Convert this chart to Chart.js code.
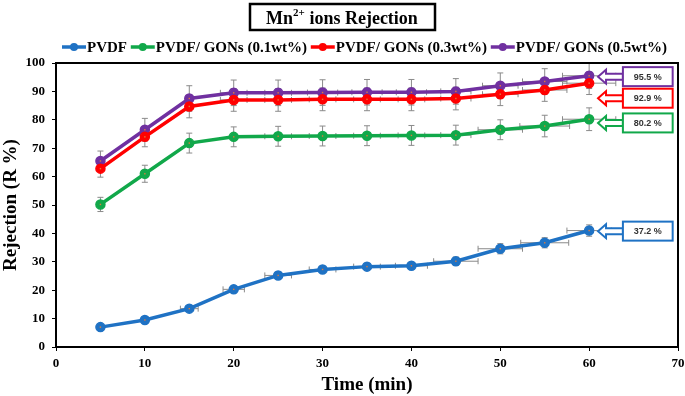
<!DOCTYPE html>
<html>
<head>
<meta charset="utf-8">
<script src="https://cdn.jsdelivr.net/npm/chart.js@4.4.1/dist/chart.umd.min.js"></script>
<style>
  body { margin: 0; background: #fff; }
  #wrap { width: 685px; height: 396px; }
</style>
</head>
<body>
<div id="wrap"><canvas id="chart" width="685" height="396"></canvas></div>
<script>
const times = [5, 10, 15, 20, 25, 30, 35, 40, 45, 50, 55, 60];

const pvdf   = [7.0, 9.5, 13.5, 20.3, 25.2, 27.3, 28.3, 28.6, 30.2, 34.6, 36.7, 41.0];
const gons01 = [50.2, 61.0, 71.8, 74.0, 74.2, 74.3, 74.4, 74.5, 74.6, 76.5, 77.8, 80.2];
const gons03 = [62.8, 74.0, 84.7, 87.0, 87.0, 87.2, 87.2, 87.2, 87.5, 89.0, 90.5, 92.9];
const gons05 = [65.5, 76.5, 87.5, 89.5, 89.5, 89.6, 89.7, 89.7, 90.0, 92.0, 93.5, 95.5];

// error bars (vertical in R %, horizontal in min)
const pvdfErrY   = [0.8, 0.8, 1.0, 1.2, 1.2, 1.2, 1.2, 1.2, 1.5, 1.8, 1.8, 2.0];
const pvdfErrX   = [0, 0, 1.0, 1.2, 1.5, 1.5, 1.5, 1.8, 2.5, 2.5, 2.7, 2.5];
const gons01ErrY = [2.5, 3.0, 3.5, 3.5, 3.5, 3.5, 3.5, 3.5, 3.5, 3.5, 3.8, 4.0];
const gons01ErrX = [0, 0, 0, 0, 1.5, 1.5, 1.5, 1.5, 1.7, 2.5, 2.8, 3.0];
const gons03ErrY = [3.0, 3.5, 4.0, 4.0, 4.0, 4.0, 4.0, 4.0, 4.0, 4.0, 4.0, 4.0];
const gons03ErrX = [0, 0, 0, 1.5, 1.5, 1.5, 1.5, 1.5, 1.7, 2.0, 2.5, 3.0];
const gons05ErrY = [3.5, 4.0, 4.5, 4.5, 4.5, 4.5, 4.5, 4.5, 4.5, 4.5, 4.5, 4.5];
const gons05ErrX = [0, 0, 0, 1.5, 1.5, 1.7, 1.7, 1.7, 1.7, 2.0, 2.5, 3.0];

const seriesNames = ['PVDF', 'PVDF/ GONs (0.1wt%)', 'PVDF/ GONs (0.3wt%)', 'PVDF/ GONs (0.5wt%)'];
const seriesColors = ['#1f72c4', '#11a84a', '#ff0000', '#7030a0'];

const calloutLabels = ['95.5 %', '92.9 %', '80.2 %', '37.2 %'];
const calloutValues = [95.2, 87.6, 78.9, 40.8];
const calloutColors = ['#7030a0', '#ff0000', '#11a84a', '#1f72c4'];

const serif = "'Liberation Serif', 'Times New Roman', serif";

function makeDataset(i, values, errY, errX) {
  return {
    label: seriesNames[i],
    data: times.map((t, j) => ({ x: t, y: values[j] })),
    errY: errY,
    errX: errX,
    borderColor: seriesColors[i],
    backgroundColor: seriesColors[i],
    borderWidth: 3.5,
    pointRadius: 4.5,
    pointBorderWidth: 1.5,
    pointBorderColor: seriesColors[i],
    pointBackgroundColor: seriesColors[i],
    tension: 0,
  };
}

const errorBars = {
  id: 'errorBars',
  beforeDatasetsDraw(chart) {
    const { ctx, scales: { x, y } } = chart;
    ctx.save();
    ctx.strokeStyle = '#8a8a8a';
    ctx.lineWidth = 1;
    chart.data.datasets.forEach((ds) => {
      ds.data.forEach((p, j) => {
        const px = x.getPixelForValue(p.x), py = y.getPixelForValue(p.y);
        const ey = ds.errY[j], ex = ds.errX[j];
        if (ey) {
          const t = y.getPixelForValue(p.y + ey), b = y.getPixelForValue(p.y - ey);
          ctx.beginPath();
          ctx.moveTo(px, t); ctx.lineTo(px, b);
          ctx.moveTo(px - 3, t); ctx.lineTo(px + 3, t);
          ctx.moveTo(px - 3, b); ctx.lineTo(px + 3, b);
          ctx.stroke();
        }
        if (ex) {
          const l = x.getPixelForValue(p.x - ex), r = x.getPixelForValue(p.x + ex);
          ctx.beginPath();
          ctx.moveTo(l, py); ctx.lineTo(r, py);
          ctx.moveTo(l, py - 3); ctx.lineTo(l, py + 3);
          ctx.moveTo(r, py - 3); ctx.lineTo(r, py + 3);
          ctx.stroke();
        }
      });
    });
    ctx.restore();
  },
  afterDatasetsDraw(chart) {
    // small orange dot in the centre of each marker
    const { ctx } = chart;
    ctx.save();
    ctx.fillStyle = '#e07a3a';
    chart.data.datasets.forEach((ds, i) => {
      chart.getDatasetMeta(i).data.forEach((el) => {
        ctx.fillRect(el.x - 0.7, el.y - 0.7, 1.4, 1.4);
      });
    });
    ctx.restore();
  }
};

const decorations = {
  id: 'decorations',
  afterDraw(chart) {
    const { ctx, chartArea: a, scales: { x, y } } = chart;
    ctx.save();

    // frame around plot
    ctx.strokeStyle = '#000';
    ctx.lineWidth = 2;
    ctx.strokeRect(a.left, a.top, a.right - a.left, a.bottom - a.top);

    // title box
    const p1 = 'Mn', p3 = ' ions Rejection';
    ctx.font = 'bold 18px ' + serif;
    const w1 = ctx.measureText(p1).width, w3 = ctx.measureText(p3).width;
    ctx.font = 'bold 11px ' + serif;
    const w2 = ctx.measureText('2+').width;
    const total = w1 + w2 + w3;
    let tx = 342 - total / 2;
    ctx.lineWidth = 2.5;
    ctx.strokeRect(250, 4, 185, 26);
    ctx.fillStyle = '#000';
    ctx.textBaseline = 'alphabetic';
    ctx.font = 'bold 18px ' + serif;
    ctx.fillText(p1, tx, 24); tx += w1;
    ctx.font = 'bold 11px ' + serif;
    ctx.fillText('2+', tx, 16); tx += w2;
    ctx.font = 'bold 18px ' + serif;
    ctx.fillText(p3, tx, 24);

    // legend
    ctx.font = 'bold 15px ' + serif;
    const widths = seriesNames.map((n) => ctx.measureText(n).width + 26);
    const start = 62, end = 668;
    const gap = (end - start - widths.reduce((s, w) => s + w, 0)) / (seriesNames.length - 1);
    let lx = start;
    const ly = 47;
    seriesNames.forEach((n, i) => {
      ctx.strokeStyle = seriesColors[i];
      ctx.fillStyle = seriesColors[i];
      ctx.lineWidth = 3.5;
      ctx.beginPath();
      ctx.moveTo(lx, ly); ctx.lineTo(lx + 24, ly);
      ctx.stroke();
      ctx.beginPath();
      ctx.arc(lx + 12, ly, 4, 0, Math.PI * 2);
      ctx.fill();
      ctx.fillStyle = '#000';
      ctx.textBaseline = 'middle';
      ctx.fillText(n, lx + 25, ly + 1);
      lx += widths[i] + gap;
    });

    // callouts
    const tipX = x.getPixelForValue(61.0);
    const boxL = x.getPixelForValue(63.8);
    const boxR = x.getPixelForValue(69.4);
    calloutLabels.forEach((lab, i) => {
      const cy = y.getPixelForValue(calloutValues[i]);
      const col = calloutColors[i];
      const bh = 19;
      ctx.lineWidth = 2;
      ctx.strokeStyle = col;
      ctx.fillStyle = '#fff';
      // hollow arrow
      ctx.beginPath();
      ctx.moveTo(tipX, cy);
      ctx.lineTo(tipX + 8, cy - 7);
      ctx.lineTo(tipX + 8, cy - 3);
      ctx.lineTo(boxL, cy - 3);
      ctx.lineTo(boxL, cy + 3);
      ctx.lineTo(tipX + 8, cy + 3);
      ctx.lineTo(tipX + 8, cy + 7);
      ctx.closePath();
      ctx.fill();
      ctx.stroke();
      ctx.fillRect(boxL, cy - bh / 2, boxR - boxL, bh);
      ctx.strokeRect(boxL, cy - bh / 2, boxR - boxL, bh);
      ctx.fillStyle = '#333';
      ctx.font = "bold 9px 'Liberation Sans', Arial, sans-serif";
      ctx.textAlign = 'center';
      ctx.textBaseline = 'middle';
      ctx.fillText(lab, (boxL + boxR) / 2, cy + 0.5);
      ctx.textAlign = 'left';
    });

    ctx.restore();
  }
};

new Chart(document.getElementById('chart'), {
  type: 'line',
  data: {
    datasets: [
      makeDataset(0, pvdf, pvdfErrY, pvdfErrX),
      makeDataset(1, gons01, gons01ErrY, gons01ErrX),
      makeDataset(2, gons03, gons03ErrY, gons03ErrX),
      makeDataset(3, gons05, gons05ErrY, gons05ErrX),
    ],
  },
  options: {
    responsive: false,
    animation: false,
    layout: { padding: { top: 63, right: 7, left: 0, bottom: 0 } },
    plugins: {
      legend: { display: false },
      tooltip: { enabled: false },
    },
    scales: {
      x: {
        type: 'linear',
        min: 0,
        max: 70,
        ticks: { stepSize: 10, color: '#000', font: { family: serif, weight: 'bold', size: 13 }, padding: 5 },
        grid: { display: true, drawOnChartArea: false, drawTicks: true, tickLength: 4, color: '#000' },
        border: { display: true, color: '#000', width: 2 },
        title: { display: true, text: 'Time (min)', color: '#000', font: { family: serif, weight: 'bold', size: 19 }, padding: { top: 4, bottom: 0 } },
        afterFit(scale) { scale.height = 49; scale.paddingRight = 0; scale.paddingLeft = 0; },
      },
      y: {
        min: 0,
        max: 100,
        ticks: { stepSize: 10, color: '#000', font: { family: serif, weight: 'bold', size: 13 }, padding: 7 },
        grid: { display: true, drawOnChartArea: false, drawTicks: true, tickLength: 4, color: '#000' },
        border: { display: true, color: '#000', width: 2 },
        title: { display: true, text: 'Rejection (R %)', color: '#000', font: { family: serif, weight: 'bold', size: 19 }, padding: { top: 0, bottom: 2 } },
        afterFit(scale) { scale.width = 56; scale.paddingTop = 0; scale.paddingBottom = 0; },
      },
    },
  },
  plugins: [errorBars, decorations],
});
</script>
</body>
</html>
